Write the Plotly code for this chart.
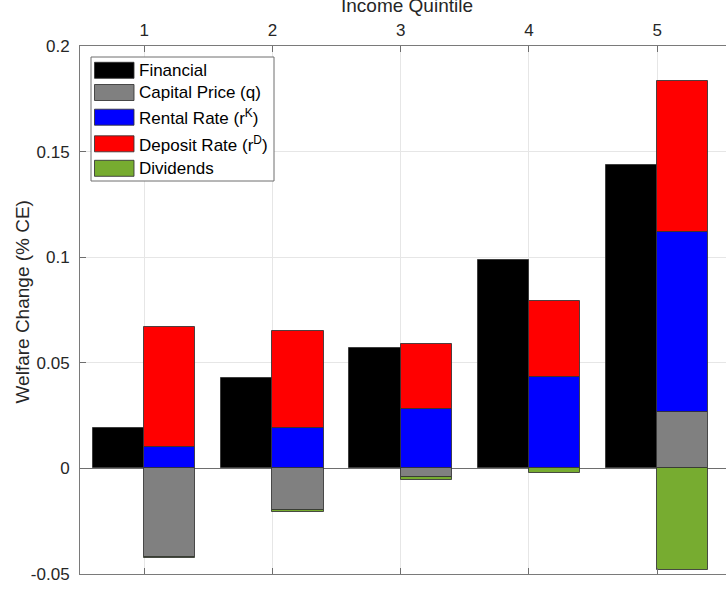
import numpy as np
import plotly.graph_objects as go

# ---- data ----
quintiles = [1, 2, 3, 4, 5]
financial = [0.0190, 0.0427, 0.0570, 0.0987, 0.1435]
capital_price = [-0.0418, -0.0195, -0.0040, 0.0000, 0.0268]
rental_rate = [0.0103, 0.0192, 0.0280, 0.0435, 0.0849]
deposit_rate = [0.0567, 0.0457, 0.0309, 0.0357, 0.0718]
dividends = [-0.0005, -0.0011, -0.0016, -0.0022, -0.0480]

series_names = ["Financial", "Capital Price (q)", "Rental Rate (r<sup>K</sup>)",
                "Deposit Rate (r<sup>D</sup>)", "Dividends"]
series_colors = ["#000000", "#808080", "#0000ff", "#ff0000", "#77ac30"]
y_ticks = [-0.05, 0, 0.05, 0.1, 0.15, 0.2]
y_tick_labels = ["-0.05", "0", "0.05", "0.1", "0.15", "0.2"]
x_title = "Income Quintile"
y_title = "Welfare Change (% CE)"

W, H = 726, 592
L, R, T, B = 80, 0, 46, 18
FONT = "Liberation Sans, Arial, sans-serif"
EDGE = dict(color="rgba(50,50,50,0.85)", width=1)
BW = 0.4

q = np.array(quintiles, dtype=float)
fig = go.Figure()
fig.add_trace(go.Bar(x=q - BW / 2, y=financial, width=BW, name=series_names[0],
                     marker=dict(color=series_colors[0], line=EDGE)))
for vals, nm, col in zip([capital_price, rental_rate, deposit_rate, dividends],
                         series_names[1:], series_colors[1:]):
    fig.add_trace(go.Bar(x=q + BW / 2, y=vals, width=BW, name=nm,
                         marker=dict(color=col, line=EDGE)))

# ---- helpers: pixel -> paper coordinates ----
pw, ph = W - L - R, H - T - B
def px(xp):
    return (xp - L) / pw
def py(yp):
    return (H - B - yp) / ph

# ---- custom MATLAB-like legend (shapes + text) ----
shapes = [dict(type="rect", xref="paper", yref="paper",
               x0=px(91), x1=px(274), y0=py(181), y1=py(57),
               line=dict(color="#6e6e6e", width=1), fillcolor="white", layer="above")]
annots = []
row_centers = [70.3, 92.5, 117.2, 143.8, 168.3]
for nm, col, yc in zip(series_names, series_colors, row_centers):
    shapes.append(dict(type="rect", xref="paper", yref="paper",
                       x0=px(94.5), x1=px(134), y0=py(yc + 8), y1=py(yc - 8),
                       line=dict(color="rgba(50,50,50,0.85)", width=1),
                       fillcolor=col, layer="above"))
    annots.append(dict(xref="paper", yref="paper", x=px(137), y=py(yc),
                       xanchor="left", yanchor="middle", text=nm, showarrow=False,
                       font=dict(family=FONT, size=17, color="#000000")))

# ---- axis titles ----
annots.append(dict(xref="paper", yref="paper", x=px(407), y=py(5),
                   xanchor="center", yanchor="middle", text=x_title, showarrow=False,
                   font=dict(family=FONT, size=19, color="#262626")))
annots.append(dict(xref="paper", yref="paper", x=px(21.5), y=py(302),
                   xanchor="center", yanchor="middle", text=y_title, showarrow=False,
                   textangle=-90, font=dict(family=FONT, size=19, color="#262626")))

fig.update_layout(
    width=W, height=H,
    margin=dict(l=L, r=R, t=T, b=B, autoexpand=False),
    barmode="relative",
    bargap=0,
    plot_bgcolor="white", paper_bgcolor="white",
    showlegend=False,
    shapes=shapes, annotations=annots,
    font=dict(family=FONT, color="#262626"),
)
fig.update_xaxes(
    side="top", range=[0.5, 0.5 + pw / 128.25],
    tickmode="array", tickvals=quintiles, ticktext=[str(v) for v in quintiles],
    ticks="inside", ticklen=6, tickcolor="#6e6e6e",
    showline=True, linecolor="#7a7a7a", linewidth=1, mirror="ticks",
    showgrid=True, gridcolor="#e6e6e6", zeroline=False,
    tickfont=dict(family=FONT, size=17, color="#262626"),
    automargin=False, ticklabelstandoff=2,
)
fig.update_yaxes(
    range=[-0.05, 0.2], tickmode="array", tickvals=y_ticks, ticktext=y_tick_labels,
    ticks="inside", ticklen=6, tickcolor="#6e6e6e",
    showline=True, linecolor="#7a7a7a", linewidth=1, mirror=False,
    showgrid=True, gridcolor="#e6e6e6",
    zeroline=True, zerolinecolor="#6e6e6e", zerolinewidth=1,
    tickfont=dict(family=FONT, size=17, color="#262626"),
    automargin=False, ticklabelstandoff=6,
)
fig.write_html("out.html")
